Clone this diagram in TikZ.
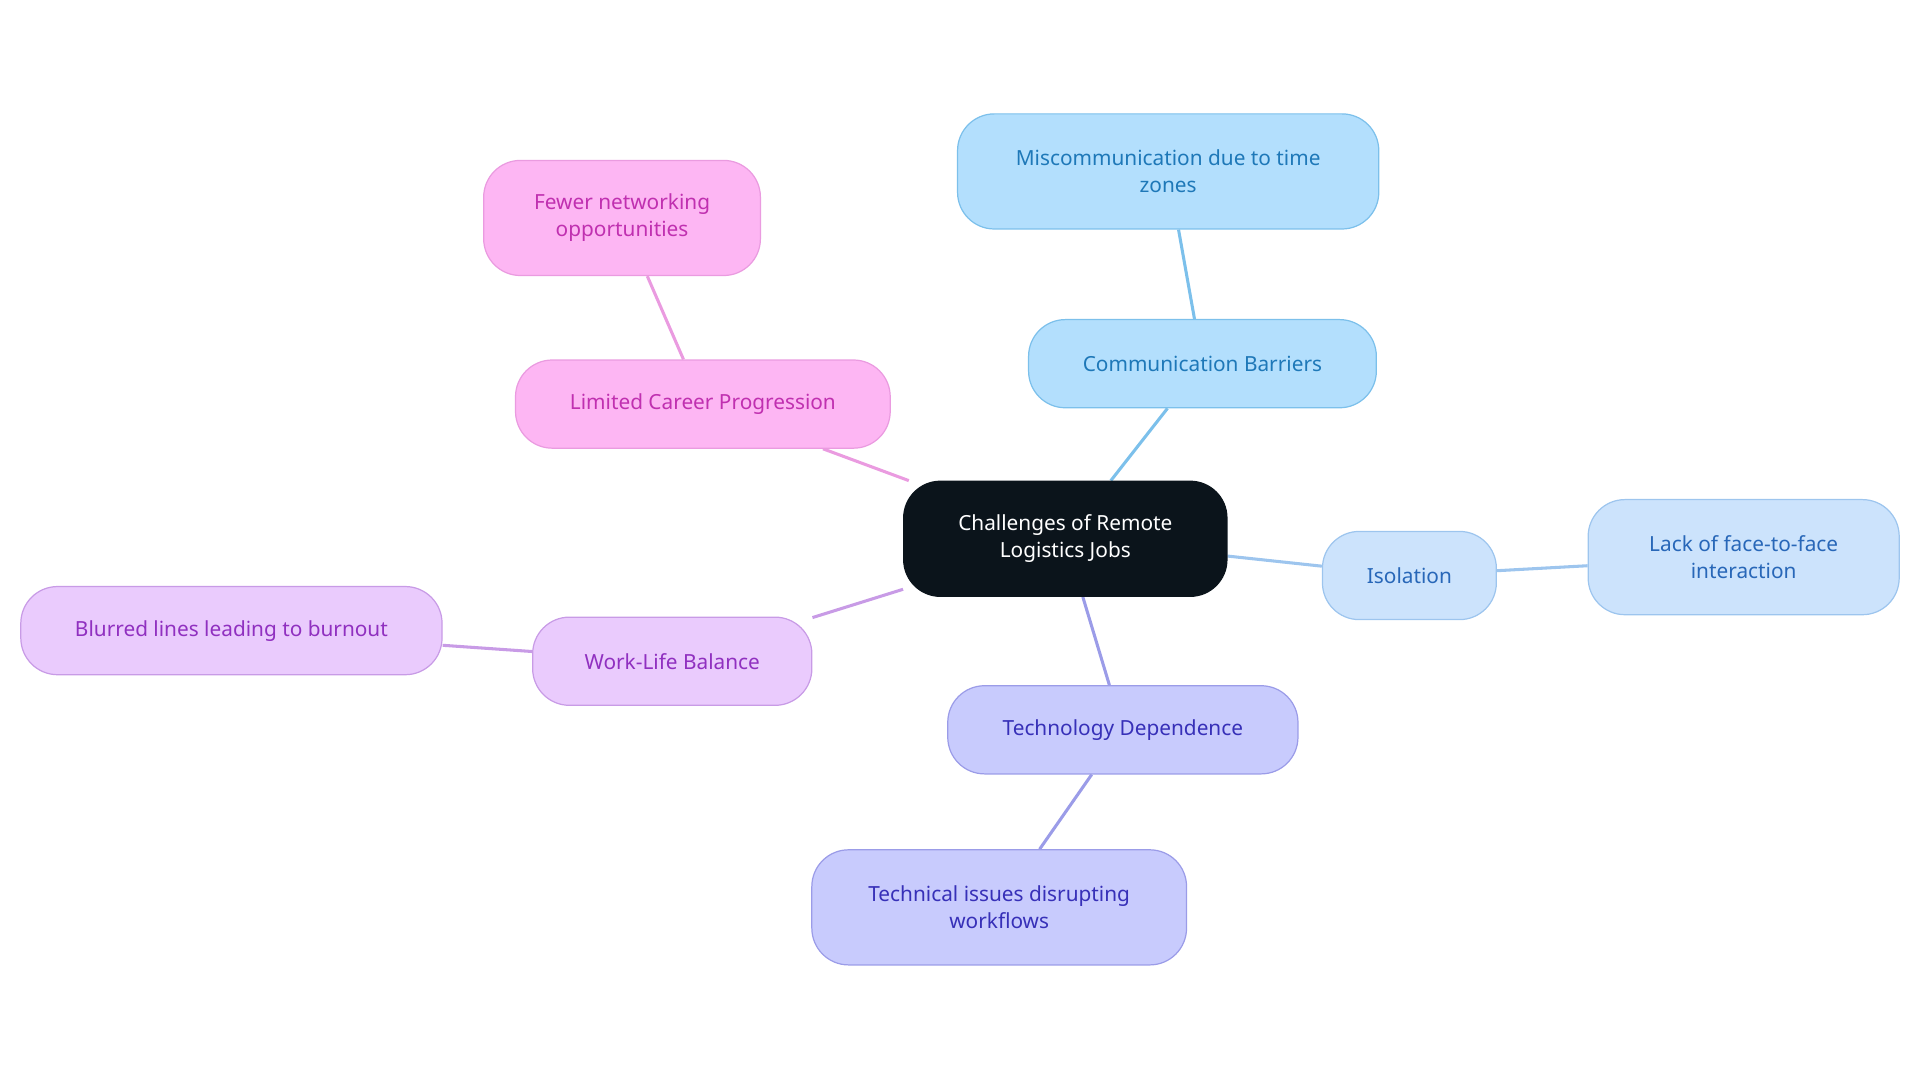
\documentclass[tikz,border=0pt]{standalone}
\usepackage{fontspec}
\setmainfont{Noto Sans}
\usetikzlibrary{backgrounds}

\tikzset{
  box/.style={rounded corners=30pt, draw, line width=1pt, align=center, inner sep=0pt,
    font=\fontsize{17}{22}\selectfont},
  link/.style={line width=2.5pt},
  blue1/.style={box, fill=blue1fill, draw=blue1line, text=blue1text},
  blue2/.style={box, fill=blue2fill, draw=blue2line, text=blue2text},
  indigo/.style={box, fill=indfill, draw=indline, text=indtext},
  violet/.style={box, fill=viofill, draw=violine, text=viotext},
  pink/.style={box, fill=pinkfill, draw=pinkline, text=pinktext},
}
\definecolor{blue1fill}{HTML}{B3DFFD}\definecolor{blue1line}{HTML}{7CC0EB}\definecolor{blue1text}{HTML}{1E78B8}
\definecolor{blue2fill}{HTML}{CCE3FC}\definecolor{blue2line}{HTML}{9DC5EE}\definecolor{blue2text}{HTML}{2867B8}
\definecolor{indfill}{HTML}{C8CBFD}\definecolor{indline}{HTML}{9B9CE8}\definecolor{indtext}{HTML}{3730B8}
\definecolor{viofill}{HTML}{EACBFD}\definecolor{violine}{HTML}{C89BE6}\definecolor{viotext}{HTML}{9030C0}
\definecolor{pinkfill}{HTML}{FDB6F3}\definecolor{pinkline}{HTML}{EA9BE0}\definecolor{pinktext}{HTML}{C030B0}

\begin{document}
\begin{tikzpicture}[x=1pt, y=-1pt]

    \useasboundingbox (0,0) rectangle (1568,884);

    % centre
    \node [box, fill={rgb,255:red,11;green,20;blue,27}, draw={rgb,255:red,11;green,20;blue,27}, text=white,
           minimum width=264pt, minimum height=94pt] (root) at (870,440) {Challenges of Remote\\Logistics Jobs};

    % communication
    \node [blue1, minimum width=284pt, minimum height=72pt] (comm) at (982,297) {Communication Barriers};
    \node [blue1, minimum width=344pt, minimum height=94pt] (miscomm) at (954,140) {Miscommunication due to time\\zones};

    % isolation
    \node [blue2, minimum width=142pt, minimum height=72pt] (iso) at (1151,470) {Isolation};
    \node [blue2, minimum width=254pt, minimum height=94pt] (face) at (1424,455) {Lack of face-to-face\\interaction};

    % technology
    \node [indigo, minimum width=286pt, minimum height=72pt] (tech) at (917,596) {Technology Dependence};
    \node [indigo, minimum width=306pt, minimum height=94pt] (issues) at (816,741) {Technical issues disrupting\\workflows};

    % work-life
    \node [violet, minimum width=228pt, minimum height=72pt] (wlb) at (549,540) {Work-Life Balance};
    \node [violet, minimum width=344pt, minimum height=72pt] (burnout) at (189,515) {Blurred lines leading to burnout};

    % career
    \node [pink, minimum width=306pt, minimum height=72pt] (career) at (574,330) {Limited Career Progression};
    \node [pink, minimum width=226pt, minimum height=94pt] (network) at (508,178) {Fewer networking\\opportunities};

    % links
    \begin{scope}[on background layer]
    \draw [link, blue1line] (root) -- (comm);
    \draw [link, blue1line] (comm) -- (miscomm);
    \draw [link, blue2line] (root) -- (iso);
    \draw [link, blue2line] (iso) -- (face);
    \draw [link, indline] (root) -- (tech);
    \draw [link, indline] (tech) -- (issues);
    \draw [link, violine] (root) -- (wlb);
    \draw [link, violine] (wlb) -- (burnout);
    \draw [link, pinkline] (root) -- (career);
    \draw [link, pinkline] (career) -- (network);
    \end{scope}

\end{tikzpicture}
\end{document}
